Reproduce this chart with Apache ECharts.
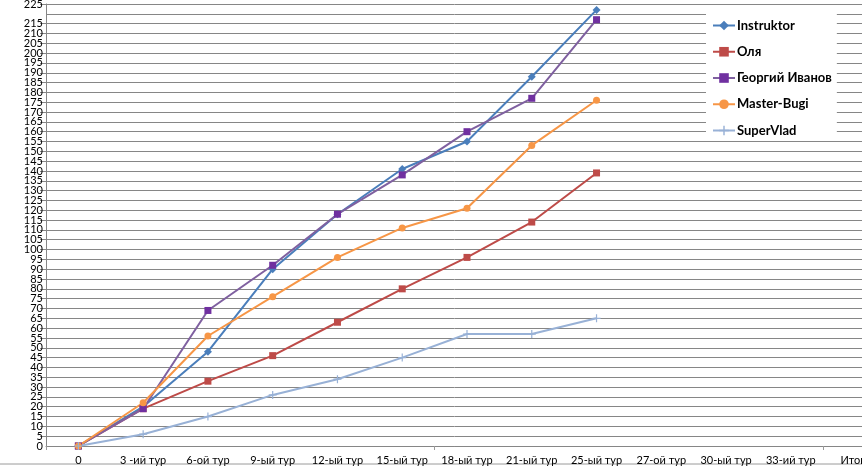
<!DOCTYPE html>
<html>
<head>
<meta charset="utf-8">
<script src="https://cdn.jsdelivr.net/npm/echarts@6/dist/echarts.min.js"></script>
<style>
html,body{margin:0;padding:0;background:#fff;}
#chart{width:862px;height:466px;}
</style>
</head>
<body>
<div id="chart"></div>
<script>
const categories = ['0','3 -ий тур','6-ой тур','9-ый тур','12-ый тур','15-ый тур','18-ый тур','21-ый тур','25-ый тур','27-ой тур','30-ый тур','33-ий тур','Итого'];
const instruktor = [0, 20, 48, 90, 118, 141, 155, 188, 222];
const olya = [0, 19, 33, 46, 63, 80, 96, 114, 139];
const georgy = [0, 19, 69, 92, 118, 138, 160, 177, 217];
const masterBugi = [0, 22, 56, 76, 96, 111, 121, 153, 176];
const superVlad = [0, 6, 15, 26, 34, 45, 57, 57, 65];
const yMin = 0, yMax = 225, yStep = 5;

const plus = 'path://M3.4,0h1.2v3.4h3.4v1.2h-3.4v3.4h-1.2v-3.4h-3.4v-1.2h3.4z';
function mk(name, data, color, symbol, size, markerColor) {
  return {
    name, type: 'line', data, symbol, symbolSize: size,
    showAllSymbol: true,
    lineStyle: {color, width: 2},
    itemStyle: {color: markerColor || color, borderWidth: 0},
    emphasis: {disabled: true},
    animation: false
  };
}
const labelStyle = {color: '#000', fontFamily: 'Lato', fontSize: 11, margin: 3, hideOverlap: false};
const chart = echarts.init(document.getElementById('chart'), null, {renderer: 'canvas'});
chart.setOption({
  backgroundColor: '#fff',
  animation: false,
  grid: {left: 46, top: 4, right: -26, bottom: 20, containLabel: false, outerBoundsMode: 'none'},
  xAxis: {
    type: 'category', data: categories, boundaryGap: true,
    axisLine: {show: true, lineStyle: {color: '#868686', width: 1}},
    axisTick: {show: true, interval: 5, length: 4, lineStyle: {color: '#9a9a9a'}},
    axisLabel: {interval: 0, color: '#000', fontFamily: 'Lato', fontSize: 11, margin: 9, hideOverlap: false},
    splitLine: {show: false}
  },
  yAxis: [{
    type: 'value', min: yMin, max: yMax, interval: yStep,
    axisLine: {show: true, lineStyle: {color: '#868686', width: 1}},
    axisTick: {show: true, length: 6, lineStyle: {color: '#868686'}},
    axisLabel: Object.assign({showMinLabel: false, showMaxLabel: true}, labelStyle),
    splitLine: {show: true, lineStyle: {color: '#868686', width: 1}}
  }, {
    type: 'value', min: yMin, max: yMax, interval: yMax - yMin, position: 'left',
    axisLine: {show: false}, axisTick: {show: false}, splitLine: {show: false},
    axisLabel: Object.assign({showMinLabel: true, showMaxLabel: false, formatter: v => v === yMin ? String(v) : ''}, labelStyle)
  }],
  legend: {
    orient: 'vertical', left: 706, top: 8,
    padding: [11, 5, 0, 6],
    itemWidth: 22, itemHeight: 12, itemGap: 13.25,
    backgroundColor: '#fff',
    textStyle: {fontFamily: 'Lato', fontWeight: 'bold', fontSize: 13, color: '#000', padding: [0,0,0,-3]},
    data: ['Instruktor','Оля','Георгий Иванов','Master-Bugi','SuperVlad']
  },
  graphic: [{type: 'line', shape: {x1: 0, y1: 464, x2: 862, y2: 464}, style: {stroke: '#9a9a9a', lineWidth: 1}}],
  series: [
    mk('Instruktor', instruktor, '#4A7EBB', 'diamond', 8),
    mk('Оля', olya, '#BE4B48', 'rect', 7),
    mk('Георгий Иванов', georgy, '#7F60A0', 'rect', 7, '#7030A0'),
    mk('Master-Bugi', masterBugi, '#F79646', 'circle', 7),
    mk('SuperVlad', superVlad, '#98B1D6', plus, 8)
  ]
});
</script>
</body>
</html>
